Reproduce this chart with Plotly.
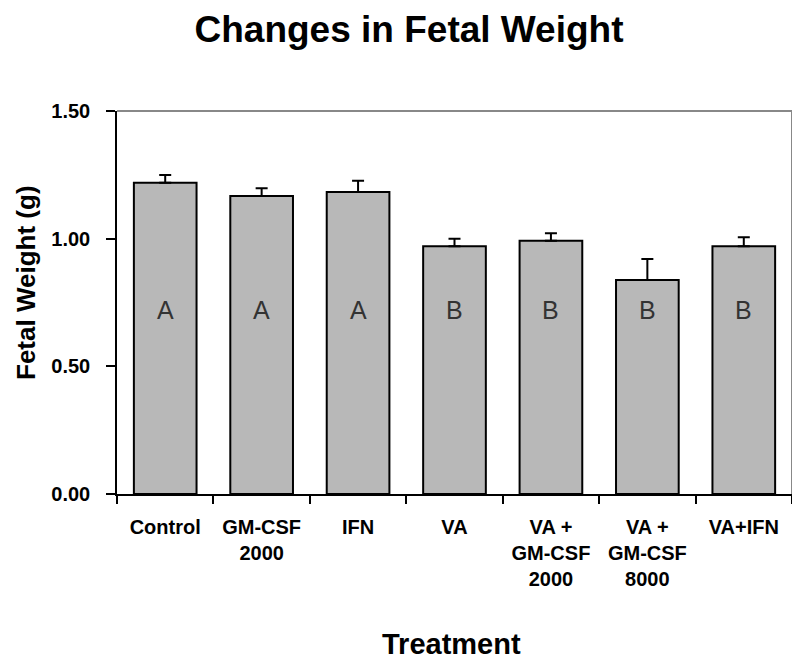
import plotly.graph_objects as go

categories = ["Control", "GM-CSF<br>2000", "IFN", "VA", "VA +<br>GM-CSF<br>2000", "VA +<br>GM-CSF<br>8000", "VA+IFN"]
means = [1.219, 1.167, 1.183, 0.970, 0.992, 0.838, 0.970]
sem = [0.030, 0.030, 0.044, 0.030, 0.029, 0.082, 0.036]
letters = ["A", "A", "A", "B", "B", "B", "B"]
letter_y = 0.72
yticks = [0.0, 0.5, 1.0, 1.5]
yticklabels = ["0.00", "0.50", "1.00", "1.50"]

FONT = "Liberation Sans, Arial, sans-serif"

fig = go.Figure()
fig.add_trace(go.Bar(
    x=categories, y=means,
    marker=dict(color="#b8b8b8", line=dict(color="black", width=2)),
    width=0.65,
    error_y=dict(type="data", array=sem, arrayminus=[0]*len(sem), symmetric=False,
                 color="black", thickness=2, width=6),
    showlegend=False,
))
for c, l in zip(categories, letters):
    fig.add_annotation(x=c, y=letter_y, text=l, showarrow=False,
                       font=dict(family=FONT, size=25, color="#333"))

# axis titles as annotations for precise placement
fig.add_annotation(xref="paper", yref="paper", x=0, y=0.551, xshift=-91, textangle=-90,
                   text="<b>Fetal Weight (g)</b>", showarrow=False, xanchor="center", yanchor="middle",
                   font=dict(family=FONT, size=26, color="black"))
fig.add_annotation(xref="paper", yref="paper", x=0.5, y=-0.392, xshift=-3,
                   text="<b>Treatment</b>", showarrow=False, xanchor="center", yanchor="middle",
                   font=dict(family=FONT, size=29, color="black"))

fig.update_layout(
    width=792, height=655,
    paper_bgcolor="white", plot_bgcolor="white",
    margin=dict(l=109, r=8, t=103, b=169),
    title=dict(text="<b>Changes in Fetal Weight</b>", x=401/792, xanchor="center",
               yref="container", y=1 - 21/655, yanchor="middle",
               font=dict(family=FONT, size=37, color="black")),
)
fig.update_xaxes(
    type="category", tickson="boundaries", ticks="outside", ticklen=8, tickwidth=1.5, tickcolor="black",
    showline=True, linecolor="black", linewidth=1.5,
    tickfont=dict(family=FONT, size=20, color="black", weight="bold"),
    ticklabelstandoff=14,
    showgrid=False,
)
fig.update_yaxes(
    range=[0, 1.5], tickvals=yticks, ticktext=yticklabels,
    ticks="outside", ticklen=9, tickwidth=1.5, tickcolor="black",
    showline=True, linecolor="black", linewidth=1.5,
    tickfont=dict(family=FONT, size=20, color="black", weight="bold"),
    ticklabelstandoff=12,
    showgrid=False, zeroline=False,
)
# gray top and right border of plot area
fig.add_shape(type="line", xref="paper", yref="paper", x0=0, x1=1, y0=1, y1=1, line=dict(color="#888", width=2))
fig.add_shape(type="line", xref="paper", yref="paper", x0=1, x1=1, y0=0, y1=1, line=dict(color="#888", width=2))

fig.write_html("out.html")
